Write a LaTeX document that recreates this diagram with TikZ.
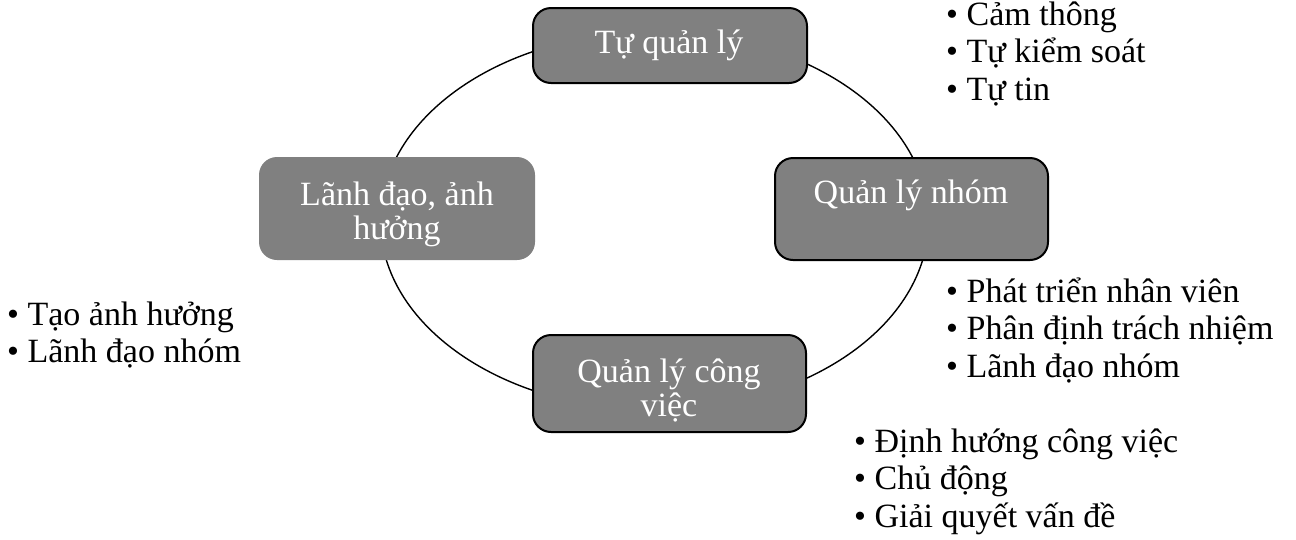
\documentclass[tikz,border=0pt]{standalone}
\usepackage{fontspec}
\setmainfont{Liberation Serif}
\begin{document}
\begin{tikzpicture}[x=1pt,y=-1pt,
  boxstyle/.style={fill=boxgray, draw=black, line width=2pt, rounded corners=18pt, inner sep=0pt},
  boxtext/.style={anchor=base, inner sep=0pt, text=white,
    font=\fontsize{34}{34.5}\selectfont},
  liststyle/.style={anchor=base west, inner sep=0pt,
    font=\fontsize{34}{37.5}\selectfont}]
\definecolor{boxgray}{HTML}{808080}
\useasboundingbox (0,0) rectangle (1296,539);
\draw[line width=1.4pt] (654.5,221) ellipse [x radius=274, y radius=189];
\node[boxstyle, minimum width=274pt, minimum height=75pt] (self) at (670,45.5) {};
\node[boxstyle, draw=none, minimum width=276pt, minimum height=103pt] (lead) at (397,208.5) {};
\node[boxstyle, minimum width=273pt, minimum height=102pt] (team) at (911.5,209) {};
\node[boxstyle, minimum width=273pt, minimum height=97pt] (work) at (669.5,383.5) {};
\node[boxtext] (selft) at (669,53) {Tự quản lý};
\node[boxtext] (leadt) at (397,205) {\begin{tabular}[t]{@{}c@{}}Lãnh đạo, ảnh\\hưởng\end{tabular}};
\node[boxtext] (teamt) at (911,203) {Quản lý nhóm};
\node[boxtext] (workt) at (669,382) {\begin{tabular}[t]{@{}c@{}}Quản lý công\\việc\end{tabular}};
\node[liststyle] (l1) at (946,25) {\begin{tabular}[t]{@{}l@{}}• Cảm thông\\• Tự kiểm soát\\• Tự tin\end{tabular}};
\node[liststyle] (l2) at (946,302) {\begin{tabular}[t]{@{}l@{}}• Phát triển nhân viên\\• Phân định trách nhiệm\\• Lãnh đạo nhóm\end{tabular}};
\node[liststyle] (l3) at (7,325) {\begin{tabular}[t]{@{}l@{}}• Tạo ảnh hưởng\\• Lãnh đạo nhóm\end{tabular}};
\node[liststyle] (l4) at (854,452) {\begin{tabular}[t]{@{}l@{}}• Định hướng công việc\\• Chủ động\\• Giải quyết vấn đề\end{tabular}};
\end{tikzpicture}
\end{document}
